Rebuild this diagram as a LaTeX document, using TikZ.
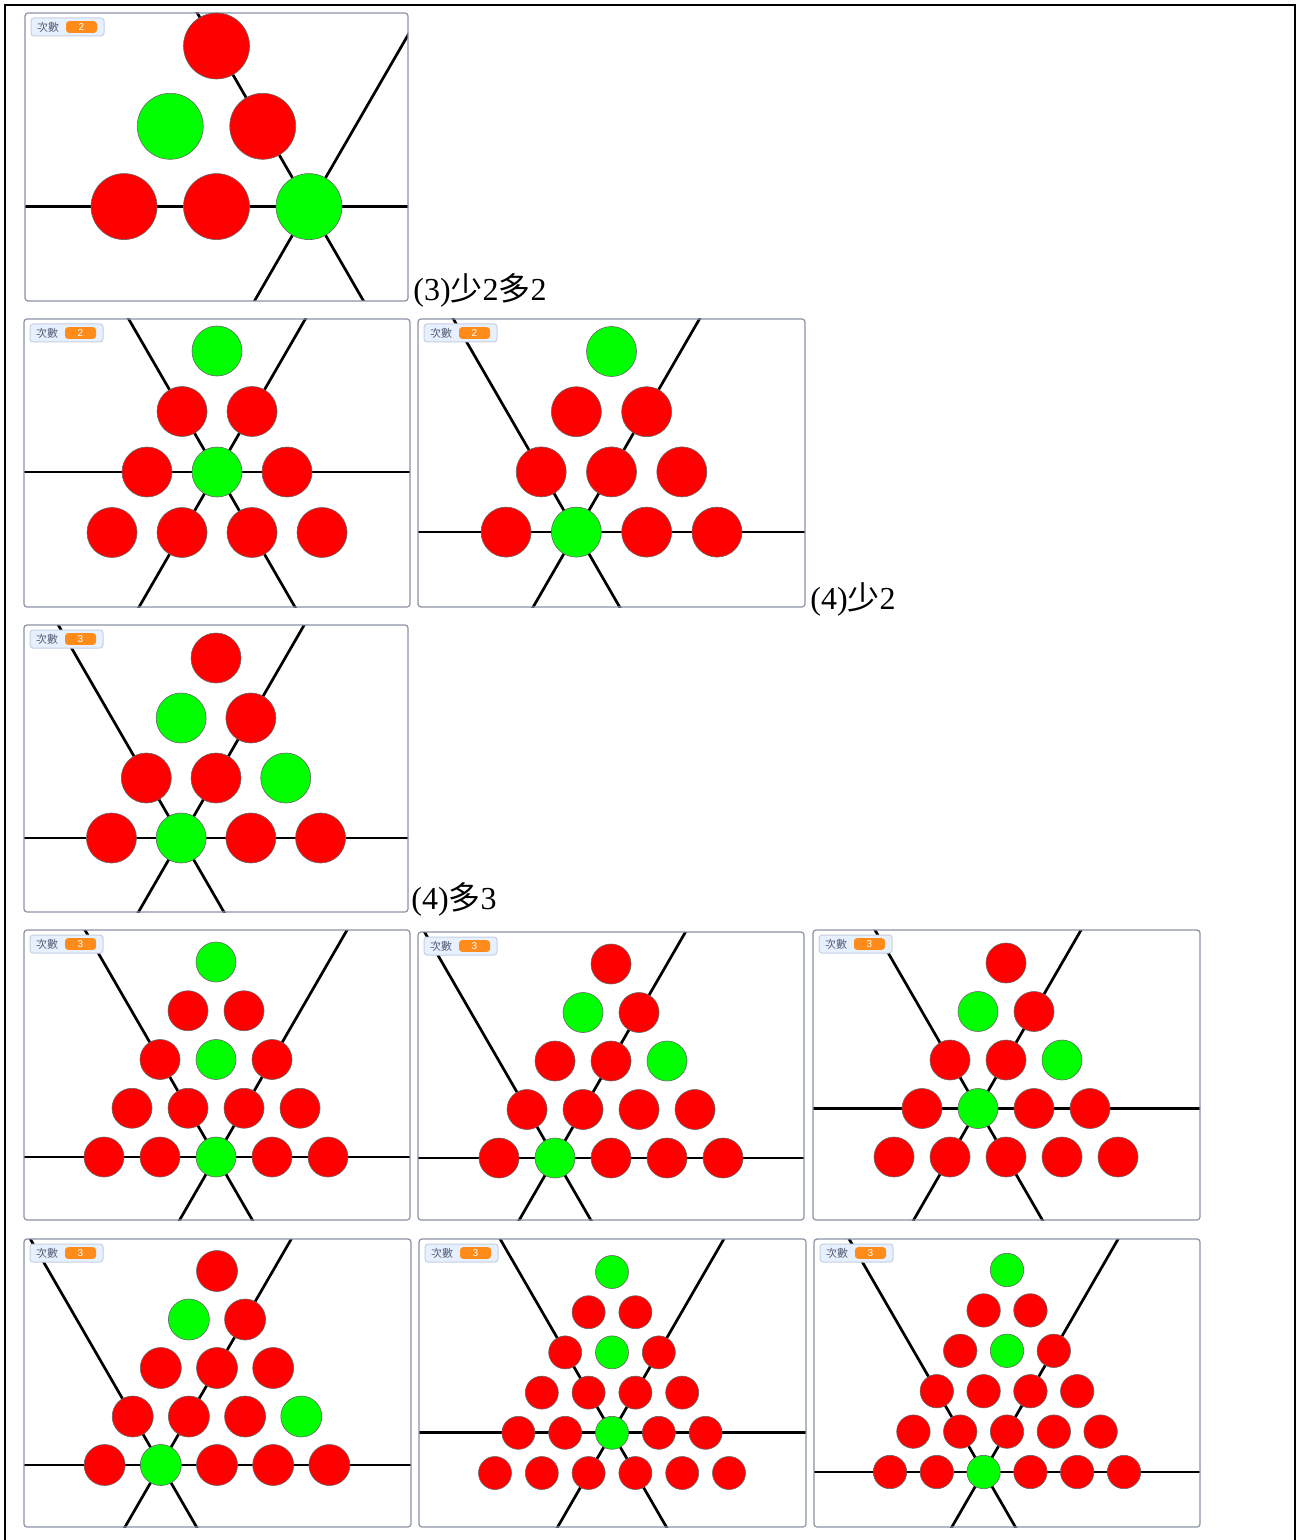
\documentclass[tikz,border=0pt]{standalone}
\usepackage{fontspec}
\setmainfont{Liberation Serif}
\newfontfamily\cjk{Noto Sans CJK TC}
\newfontfamily\badgefont{Liberation Sans}
\newcommand{\zh}[1]{{\cjk #1}}

\definecolor{R}{RGB}{255,0,0}
\definecolor{G}{RGB}{0,255,0}
\definecolor{stageline}{RGB}{140,145,165}
\definecolor{badgefill}{RGB}{230,240,255}
\definecolor{badgeline}{RGB}{197,208,226}
\definecolor{badgetext}{RGB}{87,94,117}
\definecolor{countorange}{RGB}{255,140,26}

\tikzset{
  ball/.style={circle, draw=black!60, line width=0.3pt, inner sep=0pt, minimum size=#1},
  guide/.style={line width=1.35pt, black},
  stage/.style={draw=stageline, line width=0.6pt, rounded corners=1.5pt},
  badgebox/.style={draw=badgeline, fill=badgefill, line width=0.5pt, rounded corners=1.5pt},
  badgelabel/.style={text=badgetext, inner sep=0pt, font=\cjk\fontsize{5.5}{6}\selectfont},
  badgecount/.style={fill=countorange, text=white, rounded corners=1.5pt, inner sep=0pt,
    minimum width=15.5pt, minimum height=5.8pt, font=\badgefont\fontsize{5}{6}\selectfont},
  caption/.style={anchor=base west, inner sep=0pt, font=\fontsize{16}{19}\selectfont}
}

% stage: name, left, top, right, bottom, crossing point, counter
\newcommand{\stagepanel}[7]{%
  \begin{scope}
    \clip (#2,#3) rectangle (#4,#5);
    \coordinate (#1-x) at (#6);
    \draw[guide] (#1-x) ++(180:1000) -- ++(0:2000);
    \draw[guide] (#1-x) ++(240:1000) -- ++(60:2000);
    \draw[guide] (#1-x) ++(120:1000) -- ++(300:2000);
  \end{scope}
  \draw[badgebox] (#2+6,#3+5) rectangle (#2+79,#3+23);
  \node[badgelabel] (#1-lbl) at (#2+23,#3+14) {次數};
  \node[badgecount] (#1-cnt) at (#2+56.5,#3+14) {#7};
  \draw[stage] (#2,#3) rectangle (#4,#5);
}

% balls: name, apex x, apex y, dx, dy, radius, rows
\newcommand{\balltriangle}[7]{%
  \foreach \rowcols [count=\i from 0] in {#7} {
    \foreach \c [count=\j from 0] in \rowcols {
      \node[ball=#6pt, fill=\c] (#1-\i-\j) at ({#2+(\j-\i/2)*#4},{#3+\i*#5}) {};
    }
  }
}

\begin{document}
\begin{tikzpicture}[x=0.5pt, y=-0.5pt]
  \useasboundingbox (0,0) rectangle (1297,1540);
  \fill[white] (0,0) rectangle (1297,1540);
  \draw[line width=1pt] (5,1540) -- (5,5) -- (1295,5) -- (1295,1540);

  % (2)
  \stagepanel{p1}{25}{13}{408}{301}{309,206.5}{2}
  \balltriangle{p1}{216.5}{46}{92.5}{80.3}{33}{{R},{G,R},{R,R,G}}
  \node[caption] (c3) at (413,301) {(3)\zh{少}2\zh{多}2};

  % (3)
  \stagepanel{p2a}{24}{319}{410}{607}{217,472}{2}
  \balltriangle{p2a}{217}{351}{70}{60.5}{25}{{G},{R,R},{R,G,R},{R,R,R,R}}
  \stagepanel{p2b}{418}{319}{805}{607}{576.4,532.1}{2}
  \balltriangle{p2b}{611.5}{351.5}{70.3}{60.2}{25}{{G},{R,R},{R,R,R},{R,G,R,R}}
  \node[caption] (c4a) at (810,609) {(4)\zh{少}2};

  \stagepanel{p3}{24}{625}{408}{912}{181.2,838}{3}
  \balltriangle{p3}{216}{658}{69.7}{60}{25}{{R},{G,R},{R,R,G},{R,G,R,R}}
  \node[caption] (c4b) at (411,909) {(4)\zh{多}3};

  % (4)
  \stagepanel{p4a}{24}{930}{410}{1220}{216,1157}{3}
  \balltriangle{p4a}{216}{962}{56}{48.75}{20}{{G},{R,R},{R,G,R},{R,R,R,R},{R,R,G,R,R}}
  \stagepanel{p4b}{418}{932}{804}{1220}{555,1158}{3}
  \balltriangle{p4b}{611}{964}{56}{48.5}{20}{{R},{G,R},{R,R,G},{R,R,R,R},{R,G,R,R,R}}
  \stagepanel{p4c}{813}{930}{1200}{1220}{978,1108.5}{3}
  \balltriangle{p4c}{1006}{963}{56}{48.5}{20}{{R},{G,R},{R,R,G},{R,G,R,R},{R,R,R,R,R}}

  \stagepanel{p5a}{24}{1239}{411}{1527}{160.8,1465}{3}
  \balltriangle{p5a}{217}{1271}{56.2}{48.5}{20.5}{{R},{G,R},{R,R,R},{R,R,R,G},{R,G,R,R,R}}
  \stagepanel{p5b}{419}{1239}{806}{1527}{612,1432.8}{3}
  \balltriangle{p5b}{612}{1272}{46.8}{40.2}{16.5}{{G},{R,R},{R,G,R},{R,R,R,R},{R,R,G,R,R},{R,R,R,R,R,R}}
  \stagepanel{p5c}{814}{1239}{1200}{1527}{983.6,1472}{3}
  \balltriangle{p5c}{1007}{1270}{46.8}{40.4}{16.7}{{G},{R,R},{R,G,R},{R,R,R,R},{R,R,R,R,R},{R,R,G,R,R,R}}
\end{tikzpicture}
\end{document}
